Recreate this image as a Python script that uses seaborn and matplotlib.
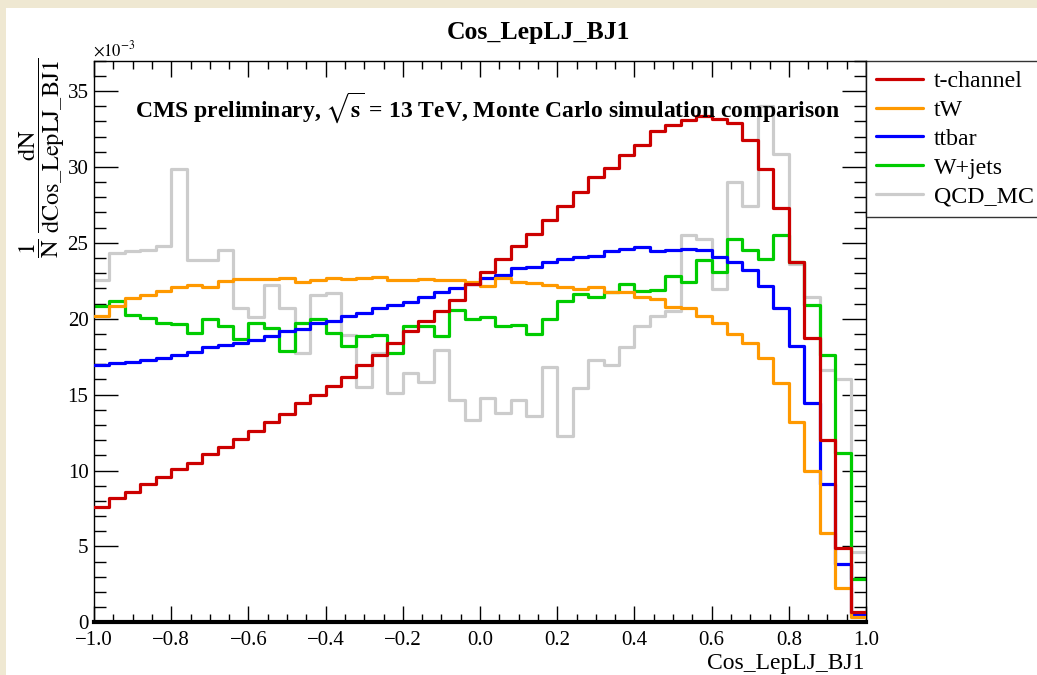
import numpy as np
import pandas as pd
import matplotlib
matplotlib.use("Agg")
import matplotlib.pyplot as plt
from matplotlib.lines import Line2D
from matplotlib.patches import Rectangle
from matplotlib.ticker import MultipleLocator, FuncFormatter
import seaborn as sns

# ---------------- data (values in units of 1e-3) ----------------
bin_edges = [round(-1.0 + 0.04 * i, 2) for i in range(51)]
processes = ["t-channel", "tW", "ttbar", "W+jets", "QCD_MC"]
colors = ["#cc0000", "#ff9900", "#0000ff", "#00cc00", "#cccccc"]

t_channel = [7.62, 8.17, 8.61, 9.10, 9.58, 10.08, 10.52, 11.10, 11.55, 12.10,
             12.63, 13.19, 13.75, 14.42, 14.98, 15.58, 16.14, 16.96, 17.62, 18.43,
             19.16, 19.82, 20.54, 21.25, 22.30, 23.11, 23.93, 24.76, 25.60, 26.52,
             27.40, 28.35, 29.33, 29.93, 30.80, 31.46, 32.39, 32.74, 33.11, 33.38,
             33.16, 32.89, 31.75, 29.88, 27.29, 23.77, 18.72, 12.02, 4.88, 0.66]
tW = [20.15, 20.81, 21.36, 21.58, 21.84, 22.12, 22.21, 22.12, 22.50, 22.61,
      22.65, 22.61, 22.67, 22.45, 22.56, 22.67, 22.61, 22.68, 22.78, 22.52,
      22.52, 22.65, 22.52, 22.56, 22.45, 22.17, 22.68, 22.39, 22.34, 22.23,
      22.12, 21.95, 22.12, 21.79, 21.79, 21.42, 21.29, 20.80, 20.70, 20.15,
      19.75, 19.00, 18.43, 17.40, 15.75, 13.22, 9.99, 5.91, 2.24, 0.33]
ttbar = [16.96, 17.07, 17.16, 17.25, 17.40, 17.62, 17.84, 18.17, 18.28, 18.39,
         18.61, 18.83, 19.16, 19.31, 19.71, 19.82, 20.15, 20.41, 20.70, 20.92,
         21.13, 21.42, 21.73, 22.02, 22.30, 22.68, 22.89, 23.34, 23.40, 23.71,
         23.93, 24.06, 24.15, 24.43, 24.59, 24.72, 24.43, 24.54, 24.61, 24.50,
         24.10, 23.77, 23.22, 22.17, 20.70, 18.21, 14.48, 9.10, 3.84, 0.55]
wjets = [20.85, 21.20, 20.26, 20.04, 19.75, 19.64, 19.09, 19.97, 19.49, 18.66,
         19.71, 19.38, 17.85, 19.75, 19.97, 19.05, 18.21, 18.83, 18.94, 17.77,
         19.49, 19.53, 18.87, 20.59, 19.97, 20.11, 19.53, 19.60, 19.00, 19.97,
         21.20, 21.60, 21.42, 21.79, 22.30, 21.86, 21.88, 22.83, 22.39, 23.88,
         23.05, 25.27, 24.54, 23.93, 25.53, 23.77, 20.92, 17.62, 11.18, 2.83]
qcd = [22.52, 24.36, 24.43, 24.50, 24.81, 29.86, 23.88, 23.88, 24.50, 20.70,
       20.11, 22.23, 20.70, 17.77, 21.58, 21.69, 18.94, 15.53, 17.77, 15.10,
       16.41, 15.86, 17.95, 14.65, 13.34, 14.77, 13.82, 14.65, 13.60, 16.85,
       12.28, 15.43, 17.29, 16.96, 18.17, 19.49, 20.15, 20.54, 25.53, 25.25,
       21.95, 29.04, 27.44, 34.00, 30.85, 23.62, 21.46, 16.59, 16.02, 4.65]

x_ticks = [-1.0, -0.8, -0.6, -0.4, -0.2, 0.0, 0.2, 0.4, 0.6, 0.8, 1.0]
y_ticks = [0, 5, 10, 15, 20, 25, 30, 35]

# ---------------- style ----------------
sns.set_style("ticks")
plt.rcParams["font.family"] = ["Liberation Serif", "DejaVu Serif"]
plt.rcParams["mathtext.fontset"] = "stix"
plt.rcParams["axes.unicode_minus"] = True

W, H = 1037, 675
fig = plt.figure(figsize=(W / 100, H / 100), dpi=100, facecolor="#efe8d2")
bg = Rectangle((6 / W, 0), 1, 1 - 8 / H, transform=fig.transFigure,
               facecolor="white", edgecolor="none", zorder=-10)
fig.patches.append(bg)

ax_l, ax_r, ax_t, ax_b = 94, 866, 60.7, 622.3
ax = fig.add_axes([ax_l / W, 1 - ax_b / H, (ax_r - ax_l) / W, (ax_b - ax_t) / H])
ax.set_facecolor("white")

edges = np.array(bin_edges)
centers = 0.5 * (edges[:-1] + edges[1:])
series = [t_channel, tW, ttbar, wjets, qcd]
df = pd.concat([pd.DataFrame({"x": centers, "w": s, "process": p})
                for p, s in zip(processes, series)], ignore_index=True)

for p, c, z in zip(processes, colors, [5, 4, 3, 2, 1]):
    sns.histplot(data=df[df.process == p], x="x", weights="w", bins=bin_edges,
                 element="step", fill=False, color=c, linewidth=2.3, ax=ax,
                 zorder=z)

ax.set_xlim(-1.0, 1.0)
ax.set_ylim(0, 37)
ax.set_xlabel("")
ax.set_ylabel("")
ax.set_xticks(x_ticks)
ax.set_yticks(y_ticks)
ax.xaxis.set_major_formatter(
    FuncFormatter(lambda v, pos: ("%.1f" % v).replace("-", "\u2212")))
ax.xaxis.set_minor_locator(MultipleLocator(0.05))
ax.yaxis.set_minor_locator(MultipleLocator(1))
for s in ["top", "right", "left", "bottom"]:
    ax.spines[s].set_visible(True)
    ax.spines[s].set_color("black")
    ax.spines[s].set_linewidth(1.0)
ax.spines["bottom"].set_linewidth(3.0)
ax.tick_params(axis="both", which="both", direction="in", top=True, right=True,
               color="black", width=1.0, labelcolor="black")
ax.tick_params(axis="x", which="major", length=11.5, pad=6, labelsize=15)
ax.tick_params(axis="x", which="minor", length=5.5)
ax.tick_params(axis="y", which="major", length=17, pad=4, labelsize=15)
ax.tick_params(axis="y", which="minor", length=8.6)

# ---------------- text ----------------
fig.text(538 / W, 1 - 33 / H, "Cos_LepLJ_BJ1", ha="center", va="center",
         fontsize=18.5, fontweight="bold", color="black")
fig.text(865 / W, 1 - 663 / H, "Cos_LepLJ_BJ1", ha="right", va="center",
         fontsize=17, color="black")
fig.text(93 / W, 1 - 50 / H, r"$\times10^{-3}$", ha="left", va="center",
         fontsize=12, color="black")
fig.text(42 / W, 1 - 58 / H,
         r"$\dfrac{1}{\mathrm{N}}\;\dfrac{\mathrm{dN}}{\mathrm{dCos\_LepLJ\_BJ1}}$",
         rotation=90, ha="center", va="top", fontsize=17.5, color="black")
fig.text(135 / W, 1 - 108 / H,
         r"CMS preliminary, $\mathbf{\sqrt{s}}$ = 13 TeV, Monte Carlo simulation comparison",
         ha="left", va="center", fontsize=17, fontweight="bold", zorder=10,
         color="black")

handles = [Line2D([0], [0], color=c, lw=2.3) for c in colors]
leg = fig.legend(handles, processes, loc="upper left",
                 bbox_to_anchor=(ax_r / W, 1 - ax_t / H), borderaxespad=0,
                 fontsize=17.2, frameon=True, fancybox=False, edgecolor="black",
                 handlelength=2.0, handletextpad=0.45, labelspacing=0.3,
                 borderpad=0.4)
leg.get_frame().set_linewidth(1.0)
for t in leg.get_texts():
    t.set_color("black")

fig.savefig("out.png", dpi=100, facecolor=fig.get_facecolor())
